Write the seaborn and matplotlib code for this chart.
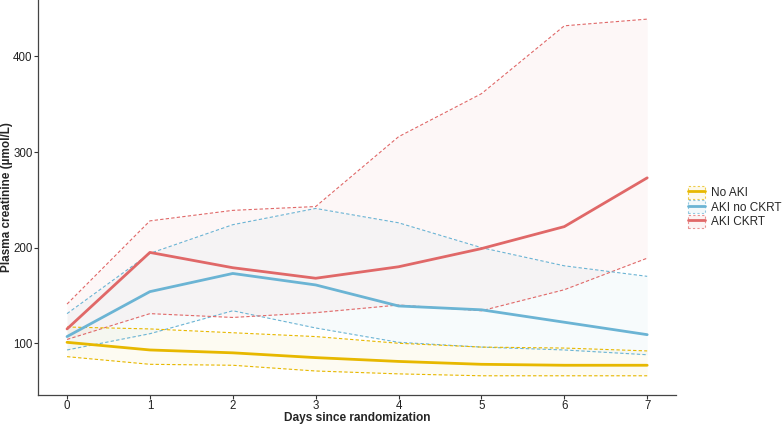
import pandas as pd
import matplotlib.pyplot as plt
import seaborn as sns
from matplotlib.patches import Patch
from matplotlib.lines import Line2D
from matplotlib.colors import to_rgba

# Datos
days = [0, 1, 2, 3, 4, 5, 6, 7]
groups = ["No AKI", "AKI no CKRT", "AKI CKRT"]
colors = ["#E7B800", "#6BB4D4", "#E06868"]

no_aki_mean = [101, 93, 90, 85, 81, 78, 77, 77]
no_aki_low = [86, 78, 77, 71, 68, 66, 66, 66]
no_aki_high = [117, 115, 111, 107, 100, 96, 95, 92]

aki_mean = [107, 154, 173, 161, 139, 135, 122, 109]
aki_low = [93, 110, 134, 116, 101, 96, 93, 88]
aki_high = [131, 194, 224, 241, 226, 200, 181, 170]

ckrt_mean = [115, 195, 179, 168, 180, 199, 222, 273]
ckrt_low = [104, 131, 127, 132, 140, 134, 156, 189]
ckrt_high = [141, 228, 239, 243, 316, 361, 432, 439]

frames = []
for g, m, lo, hi in zip(groups,
                        [no_aki_mean, aki_mean, ckrt_mean],
                        [no_aki_low, aki_low, ckrt_low],
                        [no_aki_high, aki_high, ckrt_high]):
    frames.append(pd.DataFrame({"day": days, "mean": m, "low": lo, "high": hi, "group": g}))
df = pd.concat(frames, ignore_index=True)

sns.set_style("white")
plt.rcParams['font.family'] = ['Liberation Sans', 'DejaVu Sans']

fig = plt.figure(figsize=(7.84, 4.26), dpi=100)
ax = fig.add_axes([0.0485, 0.073, 0.814, 0.927])

palette = dict(zip(groups, colors))

# Bandas sombreadas
for g in groups:
    d = df[df["group"] == g]
    ax.fill_between(d["day"], d["low"], d["high"], color=palette[g], alpha=0.05, linewidth=0)

# Límites punteados
sns.lineplot(data=df, x="day", y="low", hue="group", palette=palette, ax=ax,
             linestyle=(0, (3, 2)), linewidth=0.8, legend=False)
sns.lineplot(data=df, x="day", y="high", hue="group", palette=palette, ax=ax,
             linestyle=(0, (3, 2)), linewidth=0.8, legend=False)
# Medias
sns.lineplot(data=df, x="day", y="mean", hue="group", palette=palette, ax=ax,
             linewidth=2, legend=False)

ax.set_xlim(-0.35, 7.35)
ax.set_ylim(46, 459)
ax.set_xticks(days)
ax.set_yticks([100, 200, 300, 400])
ax.set_xlabel("Days since randomization", fontsize=8.6, fontweight="bold")
ax.set_ylabel("Plasma creatinine (µmol/L)", fontsize=8.5, fontweight="bold")
ax.xaxis.set_label_coords(0.5, -0.044)
ax.yaxis.set_label_coords(-0.039, 0.5)
ax.tick_params(axis="both", labelsize=8.3, length=3, width=0.8, color="#333333",
               labelcolor="#222222", bottom=True, left=True, pad=0.8)
sns.despine(ax=ax)
for s in ["left", "bottom"]:
    ax.spines[s].set_color("#444444")
    ax.spines[s].set_linewidth(0.9)

handles = []
for g in groups:
    c = palette[g]
    patch = Patch(facecolor=to_rgba(c, 0.08), edgecolor=to_rgba(c, 0.7),
                  linestyle=(0, (2, 2)), linewidth=0.8)
    line = Line2D([], [], color=c, linewidth=2)
    handles.append((patch, line))
fig.legend(handles, groups, loc="center left", bbox_to_anchor=(0.872, 0.514),
           frameon=False, fontsize=8.5, handlelength=1.4, handleheight=1.3,
           labelspacing=0.1, handletextpad=0.5, borderaxespad=0)

plt.savefig("out.png", dpi=100)
plt.close()
